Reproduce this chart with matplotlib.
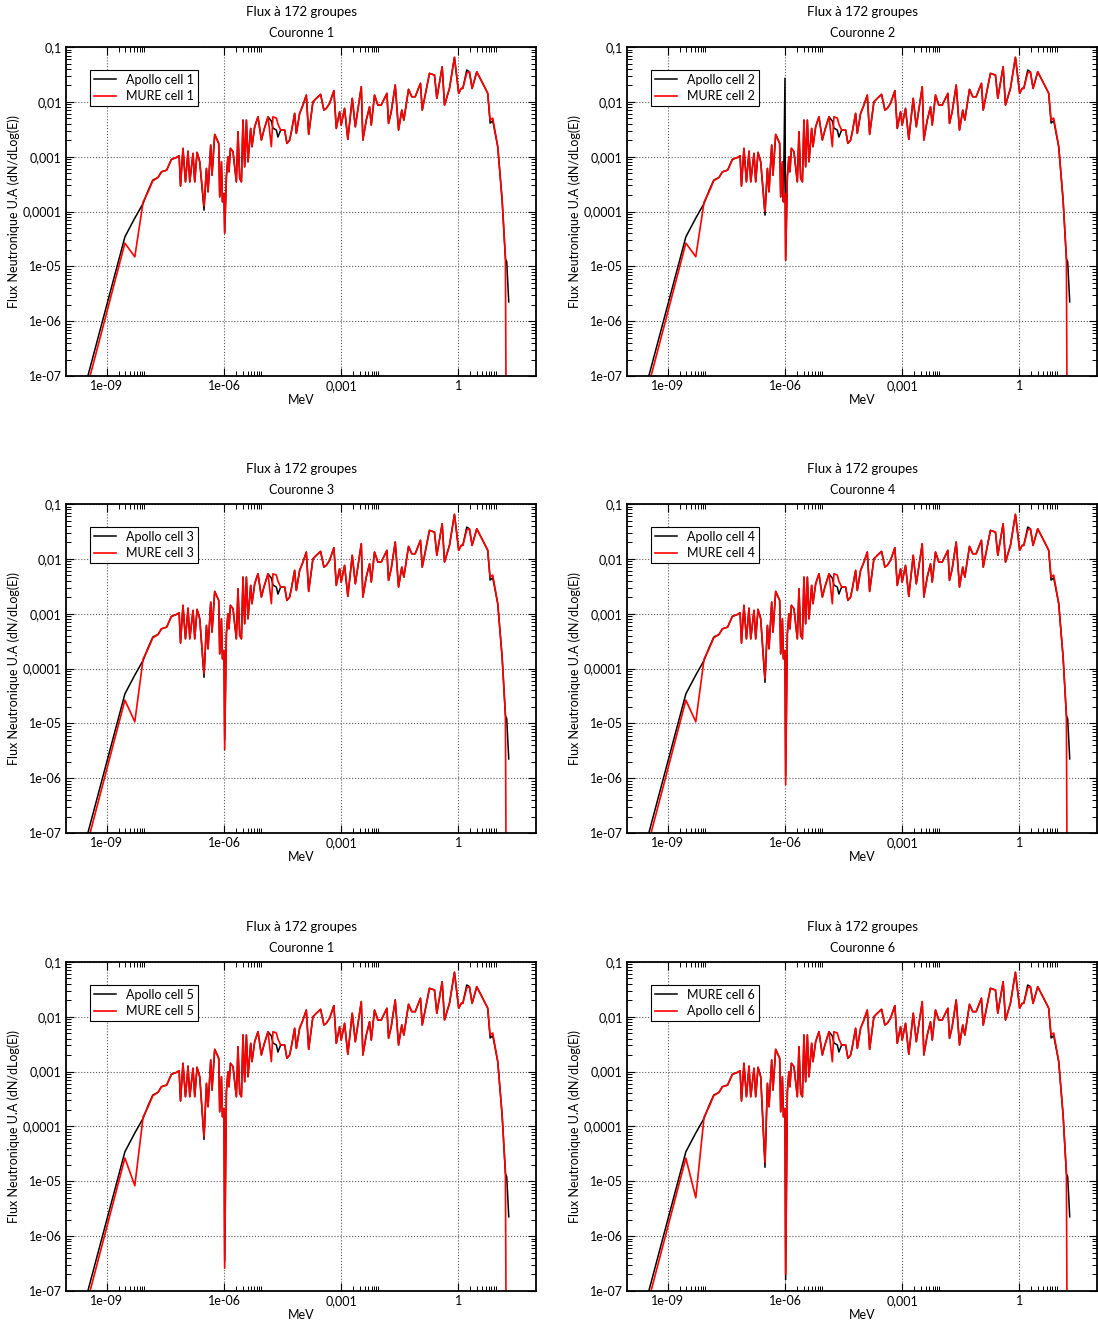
import matplotlib
matplotlib.use("Agg")
from matplotlib import pyplot as plt
from matplotlib.ticker import FixedLocator, FixedFormatter, NullFormatter

# Energies des points (MeV)
energie = [1e-11, 2.9e-9, 5.2e-9, 8.5e-9, 1.14e-8, 1.5e-8, 2.05e-8, 2.5e-8, 3.4e-8, 4.5e-8,
           6.1e-8, 7.1e-8, 7.7e-8, 8.9e-8, 1.03e-7, 1.2e-7, 1.33e-7, 1.61e-7, 1.78e-7, 2.04e-7,
           2.39e-7, 3.08e-7, 3.55e-7, 3.9e-7, 4.57e-7, 4.93e-7, 5.78e-7, 7.31e-7, 7.76e-7, 8.59e-7,
           9.1e-7, 1.0e-6, 1.04e-6, 1.15e-6, 1.26e-6, 1.34e-6, 1.46e-6, 1.7e-6, 2.07e-6, 2.28e-6,
           2.52e-6, 2.79e-6, 3.06e-6, 3.38e-6, 3.74e-6, 4.11e-6, 4.82e-6, 5.2e-6, 6.1e-6, 7.41e-6,
           9.06e-6, 1.05e-5, 1.34e-5, 1.63e-5, 1.79e-5, 2.19e-5, 2.4e-5, 2.82e-5, 3.57e-5, 4.08e-5,
           4.79e-5, 5.3e-5, 6.43e-5, 7.11e-5, 8.63e-5, 1.05e-4, 1.28e-4, 1.47e-4, 1.89e-4, 2.31e-4,
           2.97e-4, 3.61e-4, 4.16e-4, 5.05e-4, 6.5e-4, 7.5e-4, 9.1e-4, 1.0e-3, 1.22e-3, 1.48e-3,
           1.92e-3, 2.3e-3, 3.27e-3, 3.59e-3, 4.39e-3, 5.32e-3, 5.89e-3, 7.14e-3, 8.69e-3, 1.06e-2,
           1.48e-2, 1.63e-2, 1.91e-2, 2.42e-2, 2.94e-2, 3.56e-2, 4.02e-2, 5.3e-2, 6.43e-2, 7.85e-2,
           0.107, 0.119, 0.182, 0.245, 0.281, 0.385, 0.442, 0.592, 0.794, 1.02,
           1.18, 1.30, 1.64, 1.92, 2.25, 2.96, 5.14, 5.65, 6.5, 7.59,
           10.2, 13.2, 16.0, 17.3, 19.5]

# courbe noire (Apollo)
flux_noir = [8.9e-12, 3.45e-5, 7.6e-5, 1.41e-4, 2.41e-4, 3.74e-4, 4.19e-4, 5.3e-4, 5.69e-4, 8.93e-4,
             9.7e-4, 1.04e-3, 2.91e-4, 1.42e-3, 3.48e-4, 1.26e-3, 3.48e-4, 1.15e-3, 3.48e-4, 1.2e-3,
             8.07e-4, 1.06e-4, 6.11e-4, 2.29e-4, 1.63e-3, 4.61e-4, 2.55e-3, 1.75e-3, 1.85e-4, 8.07e-4,
             1.5e-4, 2.14e-4, 3.98e-5, 4.3e-4, 9.95e-4, 5.3e-4, 1.42e-3, 1.23e-3, 3.48e-4, 2.85e-3,
             4.02e-4, 3.48e-4, 4.65e-3, 6.55e-4, 4.65e-3, 8.07e-4, 3.28e-3, 1.52e-3, 3.51e-3, 5.35e-3,
             2.01e-3, 3.06e-3, 5.35e-3, 4.47e-3, 3.33e-3, 3.06e-3, 2.28e-3, 3.06e-3, 3.06e-3, 1.75e-3,
             2.01e-3, 2.85e-3, 6.17e-3, 2.66e-3, 6.17e-3, 8.74e-3, 1.33e-2, 2.55e-3, 1.0e-2, 1.16e-2,
             1.37e-2, 7.08e-3, 7.6e-3, 9.4e-3, 1.6e-2, 3.28e-3, 6.6e-3, 3.77e-3, 7.6e-3, 2.07e-3,
             1.16e-2, 3.51e-3, 1.89e-2, 2.01e-3, 4.65e-3, 8.14e-3, 3.77e-3, 1.33e-2, 8.74e-3, 8.74e-3,
             1.43e-2, 4.05e-3, 6.6e-3, 2.03e-2, 3.06e-3, 7.08e-3, 4.65e-3, 1.69e-2, 1.24e-2, 1.24e-2,
             2.18e-2, 7.08e-3, 3.31e-2, 3.08e-2, 1.16e-2, 4.37e-2, 8.74e-3, 1.76e-2, 6.49e-2, 1.43e-2,
             1.76e-2, 1.76e-2, 3.8e-2, 3.54e-2, 1.76e-2, 3.54e-2, 1.64e-2, 1.43e-2, 4.1e-3, 4.52e-3,
             1.52e-3, 1.61e-4, 1.39e-5, 1.21e-5, 2.25e-6]

# courbe rouge (MURE)
flux_rouge = [5.4e-12, 2.65e-5, 1.49e-5, 1.5e-4, 2.29e-4, 3.63e-4, 4.19e-4, 5.3e-4, 5.69e-4, 8.93e-4,
              9.7e-4, 1.04e-3, 2.91e-4, 1.42e-3, 3.48e-4, 1.26e-3, 3.48e-4, 1.15e-3, 3.48e-4, 1.2e-3,
              8.07e-4, 1.26e-4, 6.11e-4, 2.29e-4, 1.63e-3, 4.61e-4, 2.55e-3, 1.75e-3, 1.85e-4, 8.07e-4,
              1.5e-4, 2.14e-4, 3.98e-5, 4.3e-4, 9.95e-4, 5.3e-4, 1.42e-3, 1.23e-3, 3.48e-4, 2.85e-3,
              4.02e-4, 3.48e-4, 4.65e-3, 6.55e-4, 4.65e-3, 8.07e-4, 3.28e-3, 1.52e-3, 3.51e-3, 5.35e-3,
              2.01e-3, 3.06e-3, 5.35e-3, 1.52e-3, 5.35e-3, 5.06e-3, 3.94e-3, 3.06e-3, 3.06e-3, 1.75e-3,
              2.01e-3, 2.85e-3, 6.17e-3, 2.66e-3, 6.17e-3, 8.74e-3, 1.33e-2, 2.55e-3, 1.0e-2, 1.16e-2,
              1.37e-2, 7.08e-3, 7.6e-3, 9.4e-3, 1.6e-2, 3.28e-3, 6.6e-3, 3.77e-3, 7.6e-3, 2.07e-3,
              1.16e-2, 3.51e-3, 1.89e-2, 2.01e-3, 4.65e-3, 8.14e-3, 3.77e-3, 1.33e-2, 8.74e-3, 8.74e-3,
              1.43e-2, 4.05e-3, 6.6e-3, 2.03e-2, 3.06e-3, 7.08e-3, 4.65e-3, 1.69e-2, 1.24e-2, 1.24e-2,
              2.18e-2, 7.08e-3, 3.31e-2, 3.08e-2, 1.16e-2, 4.37e-2, 8.74e-3, 1.76e-2, 6.49e-2, 1.43e-2,
              1.76e-2, 1.76e-2, 3.36e-2, 3.54e-2, 1.76e-2, 3.54e-2, 1.64e-2, 1.43e-2, 4.65e-3, 5.06e-3,
              1.52e-3, 1.61e-4, 1.49e-5, 1e-10, 1e-12]

couronnes = ["Couronne 1", "Couronne 2", "Couronne 3", "Couronne 4", "Couronne 1", "Couronne 6"]
legende_noir = ["Apollo cell 1", "Apollo cell 2", "Apollo cell 3", "Apollo cell 4", "Apollo cell 5", "MURE cell 6"]
legende_rouge = ["MURE cell 1", "MURE cell 2", "MURE cell 3", "MURE cell 4", "MURE cell 5", "Apollo cell 6"]

# valeurs qui changent d'une cellule a l'autre
creux_thermique_rouge = [1.49e-5, 1.5e-5, 1.07e-5, 1.07e-5, 8.3e-6, 5.0e-6]
creux_03ev_noir = [1.06e-4, 8.6e-5, 6.9e-5, 5.6e-5, 5.8e-5, 1.8e-5]
creux_03ev_rouge = [1.26e-4, 1.0e-4, 8.0e-5, 6.5e-5, 6.5e-5, 2.2e-5]
creux_1ev_noir = [4.2e-5, 1.3e-5, 5.0e-6, 1.1e-6, 3.5e-7, 1.6e-7]
creux_1ev_rouge = [3.98e-5, 1.3e-5, 3.3e-6, 7.6e-7, 2.6e-7, 2.0e-7]
pic_noir_couronne2 = 2.7e-2

plt.rcParams['font.family'] = ['Lato', 'DejaVu Sans']

fig = plt.figure(figsize=(10.98, 13.25), dpi=100)
lefts = [0.0601, 0.571]
bottoms = [0.7162, 0.3713, 0.0257]

for i in range(6):
    ax = fig.add_axes([lefts[i % 2], bottoms[i // 2], 0.4285, 0.2483])

    noir = list(flux_noir)
    rouge = list(flux_rouge)
    rouge[2] = creux_thermique_rouge[i]
    noir[21] = creux_03ev_noir[i]
    rouge[21] = creux_03ev_rouge[i]
    noir[32] = creux_1ev_noir[i]
    rouge[32] = creux_1ev_rouge[i]
    if i == 1:
        noir[31] = pic_noir_couronne2

    ax.plot(energie, noir, color="black", lw=1.1, label=legende_noir[i])
    ax.plot(energie, rouge, color="#ff0000", lw=1.2, label=legende_rouge[i])

    ax.set_xscale("log")
    ax.set_yscale("log")
    ax.set_xlim(9e-11, 100)
    ax.set_ylim(1e-7, 0.1)

    ax.xaxis.set_major_locator(FixedLocator([1e-9, 1e-6, 1e-3, 1]))
    ax.xaxis.set_major_formatter(FixedFormatter(["1e-09", "1e-06", "0,001", "1"]))
    ax.xaxis.set_minor_locator(FixedLocator([m * 10.0 ** k for k in (-9, -6, -3, 0) for m in range(2, 10)]))
    ax.xaxis.set_minor_formatter(NullFormatter())
    ax.yaxis.set_major_locator(FixedLocator([1e-7, 1e-6, 1e-5, 1e-4, 1e-3, 1e-2, 1e-1]))
    ax.yaxis.set_major_formatter(FixedFormatter(["1e-07", "1e-06", "1e-05", "0,0001", "0,001", "0,01", "0,1"]))
    ax.yaxis.set_minor_locator(FixedLocator([m * 10.0 ** k for k in range(-7, -1) for m in range(2, 10)]))
    ax.yaxis.set_minor_formatter(NullFormatter())

    ax.tick_params(which="both", direction="in", top=True, right=True, labelsize=9, pad=3)
    ax.tick_params(which="major", length=6, width=0.8)
    ax.tick_params(which="minor", length=3.5, width=0.7)
    ax.grid(True, which="major", linestyle=":", color="0.35", linewidth=0.8)
    for s in ax.spines.values():
        s.set_linewidth(1.3)

    ax.set_xlabel("MeV", fontsize=9)
    ax.xaxis.set_label_coords(0.5, -0.055)
    ax.set_ylabel("Flux Neutronique U.A (dN/dLog(E))", fontsize=9)
    ax.yaxis.set_label_coords(-0.098, 0.5)

    ax.annotate("Flux à 172 groupes", xy=(0.5, 1), xycoords="axes fraction",
                xytext=(0, 25.2), textcoords="offset points", ha="center", va="center", fontsize=9.5)
    ax.annotate(couronnes[i], xy=(0.5, 1), xycoords="axes fraction",
                xytext=(0, 10.1), textcoords="offset points", ha="center", va="center", fontsize=9)

    leg = ax.legend(loc="upper left", bbox_to_anchor=(0.051, 0.93), borderaxespad=0,
                    fontsize=9, fancybox=False, framealpha=1, edgecolor="black",
                    handlelength=1.8, labelspacing=0.35, borderpad=0.3, handletextpad=0.8)
    leg.get_frame().set_linewidth(0.8)

fig.savefig("out.png", dpi=100)
